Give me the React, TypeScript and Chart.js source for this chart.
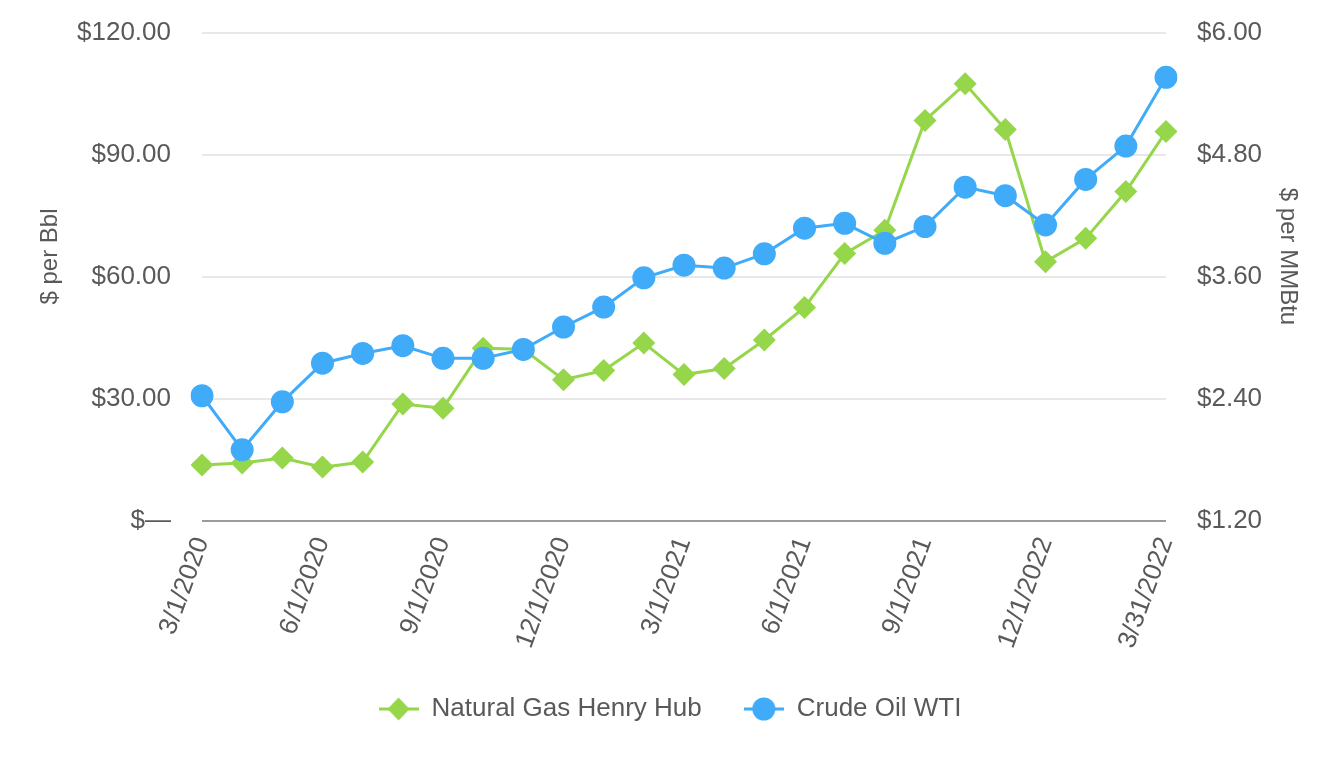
import React, { useEffect, useRef } from "react";
import { Chart, registerables } from "chart.js";

Chart.register(...registerables);

// ---------- data ----------
const categories = [
  "3/1/2020", "4/1/2020", "5/1/2020", "6/1/2020", "7/1/2020", "8/1/2020",
  "9/1/2020", "10/1/2020", "11/1/2020", "12/1/2020", "1/1/2021", "2/1/2021",
  "3/1/2021", "4/1/2021", "5/1/2021", "6/1/2021", "7/1/2021", "8/1/2021",
  "9/1/2021", "10/1/2021", "11/1/2021", "12/1/2022", "1/1/2022", "2/1/2022",
  "3/31/2022",
];

const crudeOilWTI = [
  30.8, 17.5, 29.3, 38.8, 41.2, 43.1, 40.0, 40.0, 42.2, 47.7, 52.6, 59.8,
  62.9, 62.2, 65.7, 72.0, 73.2, 68.3, 72.4, 82.1, 80.0, 72.8, 84.0, 92.2,
  109.1,
];

const naturalGasHenryHub = [
  1.75, 1.77, 1.82, 1.73, 1.78, 2.35, 2.31, 2.9, 2.89, 2.59, 2.68, 2.95,
  2.64, 2.7, 2.98, 3.3, 3.83, 4.06, 5.14, 5.5, 5.05, 3.75, 3.98, 4.44, 5.03,
];

const oilTicks = [0, 30, 60, 90, 120];
const gasTicks = [1.2, 2.4, 3.6, 4.8, 6.0];
const labelEvery = 3;

// ---------- styling ----------
const BLUE = "#40abf8";
const GREEN = "#95d64a";
const TEXT = "#595959";
const FONT = "'Liberation Sans', Arial, Helvetica, sans-serif";
const W = 1340;
const H = 760;
const LAYOUT_TOP = 33;
const AREA_BOTTOM = 521;
const AREA_LEFT = 202;
const AREA_RIGHT = 1166;
const LEGEND_PAD = 42;
const LEGEND_CENTER_Y = 709;
const TITLE_CENTER_Y = 256.5;

function legendIcon(color: string, kind: "circle" | "diamond") {
  const c = document.createElement("canvas");
  c.width = 40;
  c.height = 26;
  const ctx = c.getContext("2d")!;
  ctx.strokeStyle = color;
  ctx.lineWidth = 3;
  ctx.beginPath();
  ctx.moveTo(0, 13);
  ctx.lineTo(40, 13);
  ctx.stroke();
  ctx.fillStyle = color;
  ctx.beginPath();
  if (kind === "circle") {
    ctx.arc(20, 13, 11.5, 0, Math.PI * 2);
  } else {
    ctx.moveTo(20, 1.5);
    ctx.lineTo(31, 13);
    ctx.lineTo(20, 24.5);
    ctx.lineTo(9, 13);
    ctx.closePath();
  }
  ctx.fill();
  return c;
}

const layoutTweaks = {
  id: "layoutTweaks",
  afterLayout(chart: any) {
    const lg = chart.legend;
    if (lg) {
      const h = lg.bottom - lg.top;
      lg.top = LEGEND_CENTER_Y - LEGEND_PAD - 13;
      lg.bottom = lg.top + h;
    }
    const x = chart.scales.x;
    if (x) x.bottom = chart.height;
    for (const id of ["y", "y1"]) {
      const s = chart.scales[id];
      if (s) s.top = 2 * TITLE_CENTER_Y - s.bottom;
    }
  },
};

function fitVertical(width: number) {
  return (s: any) => {
    s.width = width;
    s.paddingTop = 0;
    s.paddingBottom = 0;
  };
}

export default function App() {
  const ref = useRef<HTMLCanvasElement | null>(null);

  useEffect(() => {
    if (!ref.current) return;
    const icons: Record<number, HTMLCanvasElement> = {
      0: legendIcon(BLUE, "circle"),
      1: legendIcon(GREEN, "diamond"),
    };
    const tickFont = { size: 26, family: FONT };
    const chart = new Chart(ref.current, {
      type: "line",
      data: {
        labels: categories,
        datasets: [
          {
            label: "Crude Oil WTI",
            data: crudeOilWTI,
            yAxisID: "y",
            borderColor: BLUE,
            backgroundColor: BLUE,
            borderWidth: 3,
            pointStyle: "circle",
            pointRadius: 11.5,
            pointBorderWidth: 0,
            pointBackgroundColor: BLUE,
            tension: 0,
          },
          {
            label: "Natural Gas Henry Hub",
            data: naturalGasHenryHub,
            yAxisID: "y1",
            borderColor: GREEN,
            backgroundColor: GREEN,
            borderWidth: 3,
            pointStyle: "rectRot",
            pointRadius: 11.5,
            pointBorderWidth: 0,
            pointBackgroundColor: GREEN,
            tension: 0,
          },
        ],
      },
      options: {
        animation: false,
        responsive: false,
        devicePixelRatio: 1,
        events: [],
        layout: { padding: { top: LAYOUT_TOP, left: 0, right: 0, bottom: 0 } },
        plugins: {
          tooltip: { enabled: false },
          title: { display: false },
          legend: {
            display: true,
            position: "bottom",
            labels: {
              usePointStyle: true,
              pointStyleWidth: 40,
              padding: LEGEND_PAD,
              color: TEXT,
              font: { size: 26, family: FONT },
              sort: (a: any, b: any) => b.datasetIndex - a.datasetIndex,
              generateLabels: (chart: any) => {
                const base = (Chart as any).defaults.plugins.legend.labels.generateLabels(chart);
                return base.map((item: any) => ({
                  ...item,
                  pointStyle: icons[item.datasetIndex],
                  lineWidth: 0,
                  fontColor: TEXT,
                }));
              },
            },
          },
        },
        scales: {
          x: {
            type: "category",
            offset: false,
            grid: { display: false, drawTicks: false },
            border: { display: false },
            ticks: {
              autoSkip: false,
              minRotation: 70,
              maxRotation: 70,
              padding: 12,
              color: TEXT,
              font: tickFont,
              callback: function (this: any, value: any, index: number) {
                return index % labelEvery === 0 ? this.getLabelForValue(value) : "";
              },
            },
            afterFit: (s: any) => {
              const lh = s.chart.legend ? s.chart.legend.height : 110;
              s.height = H - AREA_BOTTOM - lh;
              s.paddingLeft = 0;
              s.paddingRight = 0;
            },
          },
          y: {
            type: "linear",
            position: "left",
            min: oilTicks[0],
            max: oilTicks[oilTicks.length - 1],
            afterBuildTicks: (s: any) => {
              s.ticks = oilTicks.map((v) => ({ value: v }));
            },
            grid: {
              drawTicks: false,
              color: (ctx: any) => (ctx.tick && ctx.tick.value === 0 ? "#9c9c9c" : "#e8e8e8"),
              lineWidth: 2,
            },
            border: { display: false },
            ticks: {
              padding: 31,
              color: TEXT,
              font: tickFont,
              callback: (v: any) => (Number(v) === 0 ? "$\u2014" : "$" + Number(v).toFixed(2)),
            },
            title: {
              display: true,
              text: "$ per Bbl",
              color: TEXT,
              font: { size: 24, family: FONT },
              padding: { top: 35.6, bottom: 0 },
            },
            afterFit: fitVertical(AREA_LEFT),
          },
          y1: {
            type: "linear",
            position: "right",
            min: gasTicks[0],
            max: gasTicks[gasTicks.length - 1],
            afterBuildTicks: (s: any) => {
              s.ticks = gasTicks.map((v) => ({ value: v }));
            },
            grid: { drawOnChartArea: false, drawTicks: false },
            border: { display: false },
            ticks: {
              padding: 31,
              color: TEXT,
              font: tickFont,
              callback: (v: any) => "$" + Number(v).toFixed(2),
            },
            title: {
              display: true,
              text: "$ per MMBtu",
              color: TEXT,
              font: { size: 24, family: FONT },
              padding: { top: 37.6, bottom: 0 },
            },
            afterFit: fitVertical(W - AREA_RIGHT),
          },
        },
      },
      plugins: [layoutTweaks],
    } as any);
    return () => chart.destroy();
  }, []);

  return (
    <div style={{ position: "fixed", left: 0, top: 0, width: W, height: H, background: "#fff" }}>
      <canvas ref={ref} width={W} height={H} style={{ display: "block", width: W, height: H }} />
    </div>
  );
}
